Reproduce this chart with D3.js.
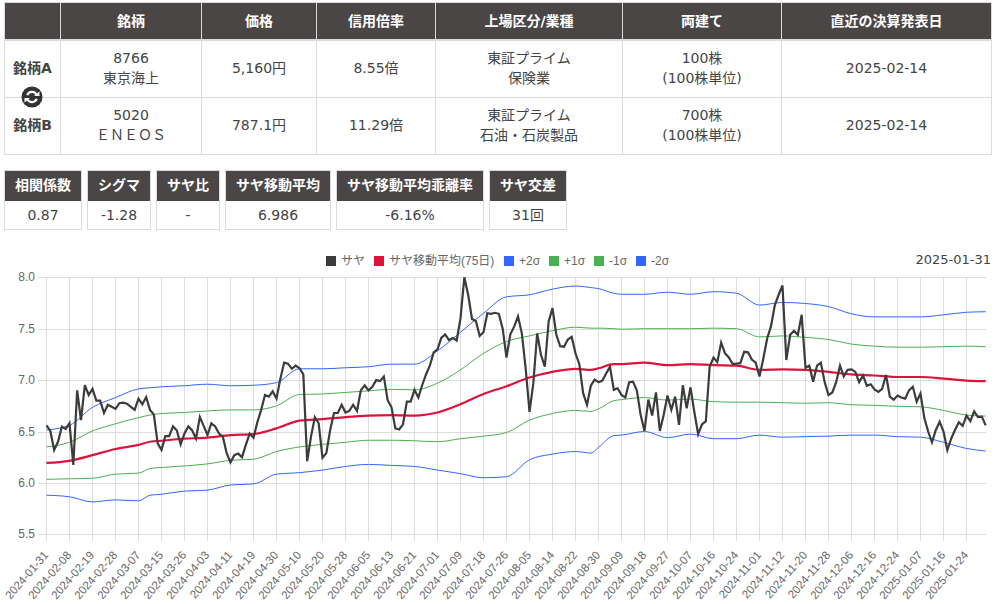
<!DOCTYPE html>
<html>
<head>
<meta charset="utf-8">
<script src="https://cdn.jsdelivr.net/npm/d3@7"></script>
<style>
  html, body { margin: 0; padding: 0; background: #fff; overflow: hidden; }
  text { font-family: "DejaVu Sans", "Noto Sans CJK JP", sans-serif; }
  .chart text { font-family: "Liberation Sans", "Noto Sans CJK JP", sans-serif; }
</style>
</head>
<body>
<svg id="plot" width="999" height="604"></svg>
<script>
// info tables
const pairHeaders = ["", "銘柄", "価格", "信用倍率", "上場区分/業種", "両建て", "直近の決算発表日"];
const rowA = ["銘柄A", "8766\n東京海上", "5,160円", "8.55倍", "東証プライム\n保険業", "100株\n(100株単位)", "2025-02-14"];
const rowB = ["銘柄B", "5020\nＥＮＥＯＳ", "787.1円", "11.29倍", "東証プライム\n石油・石炭製品", "700株\n(100株単位)", "2025-02-14"];
const statHeaders = ["相関係数", "シグマ", "サヤ比", "サヤ移動平均", "サヤ移動平均乖離率", "サヤ交差"];
const statValues = ["0.87", "-1.28", "-", "6.986", "-6.16%", "31回"];

// chart data
const tickLabels = ["2024-01-31","2024-02-08","2024-02-19","2024-02-28","2024-03-07","2024-03-15","2024-03-26","2024-04-03","2024-04-11","2024-04-19","2024-04-30","2024-05-10","2024-05-20","2024-05-28","2024-06-05","2024-06-13","2024-06-21","2024-07-01","2024-07-09","2024-07-18","2024-07-26","2024-08-05","2024-08-14","2024-08-22","2024-08-30","2024-09-09","2024-09-18","2024-09-27","2024-10-07","2024-10-16","2024-10-24","2024-11-01","2024-11-12","2024-11-20","2024-11-28","2024-12-06","2024-12-16","2024-12-24","2025-01-07","2025-01-16","2025-01-24"];
const saya = [
  6.56,6.505,6.32,6.40,6.547,6.525,6.58,6.175,6.90,6.61,6.95,6.855,6.915,6.80,6.80,6.68,6.76,6.74,6.72,6.775,
  6.78,6.77,6.74,6.71,6.82,6.765,6.835,6.71,6.665,6.385,6.32,6.455,6.455,6.55,6.51,6.375,6.48,6.55,6.51,6.43,
  6.64,6.555,6.465,6.58,6.55,6.48,6.45,6.29,6.20,6.27,6.285,6.25,6.37,6.48,6.44,6.59,6.71,6.855,6.84,6.89,
  6.82,7.01,7.17,7.16,7.11,7.14,7.115,7.055,6.21,6.45,6.64,6.58,6.245,6.29,6.515,6.68,6.68,6.76,6.685,6.70,
  6.76,6.70,6.90,6.95,6.90,6.935,7.00,6.99,7.035,6.805,6.735,6.53,6.52,6.57,6.79,6.79,6.905,6.83,6.95,7.055,
  7.14,7.27,7.30,7.41,7.445,7.39,7.41,7.385,7.60,8.00,7.83,7.595,7.575,7.43,7.465,7.65,7.645,7.655,7.645,7.50,
  7.22,7.445,7.52,7.62,7.455,7.115,6.69,6.97,7.455,7.245,7.13,7.57,7.70,7.44,7.33,7.325,7.395,7.42,7.26,7.155,
  6.87,6.76,6.945,7.005,6.98,6.995,7.065,7.13,6.905,6.92,6.855,6.83,6.98,6.985,6.90,6.66,6.505,6.81,6.655,6.88,
  6.505,6.66,6.85,6.71,6.84,6.565,6.95,6.725,6.93,6.69,6.475,6.57,6.60,7.13,7.22,7.175,7.365,7.26,7.22,7.155,
  7.16,7.165,7.275,7.27,7.20,7.17,7.035,7.21,7.405,7.525,7.73,7.83,7.92,7.195,7.44,7.48,7.44,7.635,7.12,7.14,
  6.985,7.14,7.17,6.98,6.855,6.88,6.98,7.14,7.035,7.10,7.105,7.08,6.98,7.045,6.945,6.96,6.91,6.885,6.915,7.05,
  6.84,6.81,6.85,6.83,6.82,6.90,6.935,6.79,6.87,6.63,6.50,6.395,6.515,6.595,6.50,6.32,6.43,6.515,6.59,6.555,
  6.655,6.60,6.695,6.64,6.645,6.56
];
// bands and average were read at the labelled ticks, a few kinks and the last day
const bandDays = [0,6,12,18,24,27,30,36,42,48,54,60,66,72,78,84,90,96,102,108,114,120,126,132,138,142,144,148,150,156,162,168,174,180,186,192,198,204,210,216,222,228,234,240,245];
const movingAvg = [6.195,6.215,6.27,6.33,6.37,6.40,6.41,6.43,6.44,6.465,6.475,6.53,6.605,6.62,6.64,6.655,6.66,6.655,6.685,6.765,6.865,6.94,7.025,7.08,7.11,7.10,7.115,7.155,7.155,7.17,7.145,7.155,7.145,7.14,7.10,7.105,7.10,7.08,7.055,7.045,7.03,7.03,7.015,6.995,6.99];
const plus2 = [6.515,6.56,6.735,6.83,6.915,6.925,6.935,6.945,6.96,6.945,6.95,6.975,7.11,7.11,7.12,7.13,7.155,7.155,7.285,7.465,7.65,7.81,7.83,7.885,7.915,7.90,7.89,7.845,7.835,7.835,7.855,7.835,7.86,7.845,7.73,7.755,7.745,7.715,7.645,7.615,7.615,7.615,7.635,7.66,7.665];
const plus1 = [6.35,6.395,6.505,6.575,6.635,6.66,6.675,6.685,6.70,6.71,6.71,6.75,6.86,6.865,6.88,6.895,6.91,6.905,6.97,7.10,7.26,7.375,7.43,7.48,7.515,7.505,7.505,7.50,7.495,7.50,7.50,7.50,7.505,7.50,7.42,7.43,7.415,7.395,7.35,7.33,7.32,7.32,7.325,7.33,7.325];
const minus1 = [6.035,6.04,6.045,6.085,6.095,6.14,6.15,6.165,6.185,6.22,6.23,6.305,6.35,6.375,6.395,6.415,6.415,6.41,6.40,6.43,6.455,6.49,6.61,6.675,6.705,6.695,6.72,6.80,6.81,6.83,6.805,6.815,6.79,6.785,6.785,6.78,6.775,6.78,6.76,6.755,6.745,6.74,6.705,6.66,6.65];
const minus2 = [5.88,5.865,5.815,5.835,5.825,5.88,5.89,5.92,5.93,5.98,5.99,6.085,6.10,6.125,6.16,6.18,6.17,6.16,6.125,6.09,6.05,6.06,6.225,6.28,6.305,6.29,6.345,6.46,6.465,6.50,6.44,6.475,6.43,6.43,6.465,6.445,6.45,6.455,6.465,6.465,6.45,6.445,6.395,6.335,6.31];
const yTicks = [5.5, 6.0, 6.5, 7.0, 7.5, 8.0];

const headBg = "#4b4646", lineCol = "#dcdcdc", txt = "#444";
const svg = d3.select("#plot");

// multi line cell text, centred on cx,cy
function cellText(g, str, cx, cy, bold, fill) {
  const parts = str.split("\n");
  parts.forEach((p, k) => {
    g.append("text")
      .attr("x", cx)
      .attr("y", cy + (k - (parts.length - 1) / 2) * 20 + 5)
      .attr("text-anchor", "middle")
      .attr("font-size", 14)
      .attr("font-weight", bold ? 700 : 400)
      .attr("fill", fill)
      .text(p);
  });
}

// top table
const cols = [4.5, 60.5, 201.5, 316.5, 435.5, 622.5, 781.5, 991.5];
const rowsY = [40, 97.5, 154.5];
const rowMid = [68, 125];
const t1 = svg.append("g");
t1.append("rect").attr("x", 4).attr("y", 3).attr("width", 988).attr("height", 37).attr("fill", headBg);
t1.selectAll(".vl").data(cols).enter().append("line")
  .attr("x1", d => d).attr("x2", d => d).attr("y1", 3).attr("y2", 154.5)
  .attr("stroke", lineCol);
t1.selectAll(".hl").data(rowsY).enter().append("line")
  .attr("x1", 4).attr("x2", 992).attr("y1", d => d).attr("y2", d => d)
  .attr("stroke", lineCol).attr("stroke-width", (d, i) => i === 0 ? 2 : 1);
t1.append("line").attr("x1", 4).attr("x2", 992).attr("y1", 2.5).attr("y2", 2.5).attr("stroke", lineCol);
pairHeaders.forEach((h, i) => {
  if (h) cellText(t1, h, (cols[i] + cols[i + 1]) / 2, 20.5, true, "#fff");
});
[rowA, rowB].forEach((row, r) => {
  row.forEach((c, i) => {
    cellText(t1, c, (cols[i] + cols[i + 1]) / 2, rowMid[r], i === 0, txt);
  });
});

// swap icon between the two rows
const icon = t1.append("g").attr("transform", "translate(32,97)");
icon.append("circle").attr("r", 10.5).attr("fill", "#333");
const arc = d3.arc().innerRadius(4).outerRadius(6.2);
icon.append("path").attr("d", arc({ startAngle: -1.2, endAngle: 1.1 })).attr("fill", "#fff");
icon.append("path").attr("d", arc({ startAngle: 1.95, endAngle: 4.25 })).attr("fill", "#fff");
icon.append("path").attr("d", "M2,-1 L7.5,-1 L7.5,-5.5 Z").attr("fill", "#fff");
icon.append("path").attr("d", "M-2,1 L-7.5,1 L-7.5,5.5 Z").attr("fill", "#fff");

// stat boxes
const boxX = [[4.5, 81.5], [87.5, 150.5], [156.5, 219.5], [225.5, 330.5], [336.5, 483.5], [489.5, 566.5]];
const t2 = svg.append("g");
statHeaders.forEach((h, i) => {
  const [x0, x1] = boxX[i];
  t2.append("rect").attr("x", x0).attr("y", 170.5).attr("width", x1 - x0).attr("height", 59)
    .attr("fill", "#fff").attr("stroke", lineCol);
  t2.append("rect").attr("x", x0 + 0.5).attr("y", 171).attr("width", x1 - x0 - 1).attr("height", 30).attr("fill", headBg);
  cellText(t2, h, (x0 + x1) / 2, 185, true, "#fff");
  cellText(t2, statValues[i], (x0 + x1) / 2, 214.5, false, txt);
});

// chart
const x = d3.scalePoint().domain(d3.range(saya.length)).range([46, 46 + (saya.length - 1) * 23 / 6]);
const y = d3.scaleLinear().domain([5.5, 8]).range([534.3, 277.3]);
const yGrid = y.copy().interpolate(d3.interpolateRound);
const chart = svg.append("g").attr("class", "chart");

const yAxis = chart.append("g")
  .attr("transform", "translate(986,0)")
  .call(d3.axisLeft(yGrid).tickValues(yTicks).tickFormat(d3.format(".1f")).tickSize(948).tickPadding(3));
const xAxis = chart.append("g")
  .attr("transform", "translate(0,541)")
  .call(d3.axisBottom(x)
    .tickValues(d3.range(0, 241, 6))
    .tickFormat(d => tickLabels[d / 6])
    .tickSize(-264));
[yAxis, xAxis].forEach(a => {
  a.select(".domain").remove();
  a.selectAll("line").attr("stroke", "#ddd");
  a.selectAll("text").attr("fill", "#666").attr("font-size", 12);
});
xAxis.selectAll("text")
  .attr("text-anchor", "end")
  .attr("font-size", 11.5)
  .attr("y", 0).attr("dy", "0")
  .attr("transform", "translate(2.5,14.5) rotate(-49)");

const bandLine = d3.line()
  .x((d, i) => x(bandDays[i]) + 0.5)
  .y(d => y(d))
  .curve(d3.curveMonotoneX);
const sayaLine = d3.line()
  .x((d, i) => x(i) + 0.5)
  .y(d => y(d));

const bands = [
  { name: "+2σ", vals: plus2, color: "#3366ff" },
  { name: "+1σ", vals: plus1, color: "#4caf50" },
  { name: "-1σ", vals: minus1, color: "#4caf50" },
  { name: "-2σ", vals: minus2, color: "#3366ff" }
];
bands.forEach(b => {
  chart.append("path").datum(b.vals)
    .attr("fill", "none").attr("stroke", b.color).attr("stroke-width", 1)
    .attr("d", bandLine);
});
chart.append("path").datum(movingAvg)
  .attr("fill", "none").attr("stroke", "#dc143c").attr("stroke-width", 2.2)
  .attr("d", bandLine);
chart.append("path").datum(saya)
  .attr("fill", "none").attr("stroke", "#3c3c3c").attr("stroke-width", 2.2)
  .attr("d", sayaLine);

// legend
const legendItems = [
  { name: "サヤ", color: "#3c3c3c", x: 326 },
  { name: "サヤ移動平均(75日)", color: "#dc143c", x: 374 },
  { name: "+2σ", color: "#3366ff", x: 504 },
  { name: "+1σ", color: "#4caf50", x: 549 },
  { name: "-1σ", color: "#4caf50", x: 594 },
  { name: "-2σ", color: "#3366ff", x: 636 }
];
const legend = chart.selectAll(".legend").data(legendItems).enter().append("g")
  .attr("transform", d => `translate(${d.x},256)`);
legend.append("rect").attr("width", 10).attr("height", 10).attr("fill", d => d.color);
legend.append("text").attr("x", 15).attr("y", 9).attr("font-size", 12).attr("fill", "#666").text(d => d.name);

svg.append("text")
  .attr("x", 991).attr("y", 264)
  .attr("text-anchor", "end")
  .attr("font-size", 13)
  .attr("fill", txt)
  .text("2025-01-31");
</script>
</body>
</html>
